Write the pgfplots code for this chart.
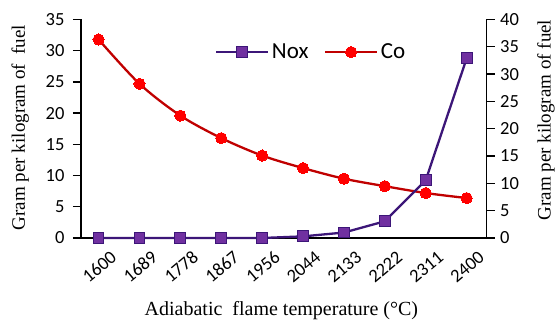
\documentclass[border=0pt]{standalone}
\usepackage{pgfplots}
\pgfplotsset{compat=1.18}
\usepackage{fontspec}
\setmainfont{Liberation Serif}
\newfontfamily\carlito{Carlito}
\definecolor{noxline}{RGB}{60,22,120}
\definecolor{noxfill}{RGB}{112,48,160}
\definecolor{coline}{RGB}{192,0,0}
\definecolor{cofill}{RGB}{255,0,0}
\pgfplotsset{
  common/.style={
    scale only axis, width=405.7pt, height=218.5pt,
    xmin=-0.43, xmax=9.49,
    xtick={0,...,9},
    xticklabels={1600,1689,1778,1867,1956,2044,2133,2222,2311,2400},
    /pgf/number format/assume math mode=true,
    tick label style={font=\carlito\fontsize{18.5}{20}\selectfont},
    major tick length=8pt,
    tick style={black, line width=1.3pt},
    axis line style={black, line width=1.6pt},
    clip=false,
  }
}
\begin{document}
\begin{tikzpicture}
\begin{axis}[common,
  axis x line*=bottom, axis y line*=left,
  ymin=0, ymax=35, ytick={0,5,...,35},
  ytick pos=left, tick align=outside,
  xtick style={draw=none},
  yticklabel style={xshift=-5pt},
  xticklabel style={rotate=40, anchor=north east, inner sep=0pt, xshift=6pt, yshift=-10pt},
  xlabel={Adiabatic\ \ flame temperature (°C)},
  ylabel={Gram per kilogram of\ \ fuel},
  every axis x label/.style={at={(axis description cs:0.494,-0.33)}, anchor=center, font=\fontsize{20}{22}\selectfont},
  every axis y label/.style={at={(axis description cs:-0.150,0.506)}, rotate=90, anchor=center, font=\fontsize{19}{21}\selectfont},
]
\addplot[coline, line width=2.3pt, smooth, mark=*, mark size=5.6pt, mark options={fill=cofill, draw=cofill, line width=0pt}]
coordinates {(0,31.8)(1,24.7)(2,19.6)(3,16.0)(4,13.2)(5,11.2)(6,9.5)(7,8.3)(8,7.2)(9,6.4)};
\end{axis}
\begin{axis}[common,
  axis x line=none, axis y line*=right,
  ymin=0, ymax=40, ytick={0,5,...,40},
  ytick pos=right, tick align=outside,
  yticklabel style={xshift=2pt},
  xtick=\empty,
  ylabel={Gram per kilogram of fuel},
  every axis y label/.style={at={(axis description cs:1.146,0.54)}, rotate=90, anchor=center, font=\fontsize{19}{21}\selectfont},
  legend style={draw=none, fill=none, at={(0.568,0.851)}, anchor=center, legend columns=2,
    font=\carlito\fontsize{23}{25}\selectfont, nodes={inner xsep=2.5pt},
    /tikz/every even column/.append style={column sep=13pt}},
  legend cell align=left,
  legend image code/.code={\draw[mark repeat=2,mark phase=2] plot coordinates {(0pt,0pt) (26pt,0pt) (52pt,0pt)};},
]
\addplot[noxline, line width=2.3pt, mark=square*, mark size=5.4pt, mark options={fill=noxfill, draw=noxline, line width=1pt}]
coordinates {(0,0)(1,0)(2,0)(3,0)(4,0)(5,0.3)(6,1.0)(7,3.06)(8,10.6)(9,32.9)};
\addlegendentry{Nox}
\addlegendimage{coline, line width=2.3pt, mark=*, mark size=5.6pt, mark options={fill=cofill, draw=cofill, line width=0pt}}
\addlegendentry{Co}
\end{axis}
\pgfresetboundingbox
\path (-81pt,-86pt) rectangle (474pt,238pt);
\end{tikzpicture}
\end{document}
